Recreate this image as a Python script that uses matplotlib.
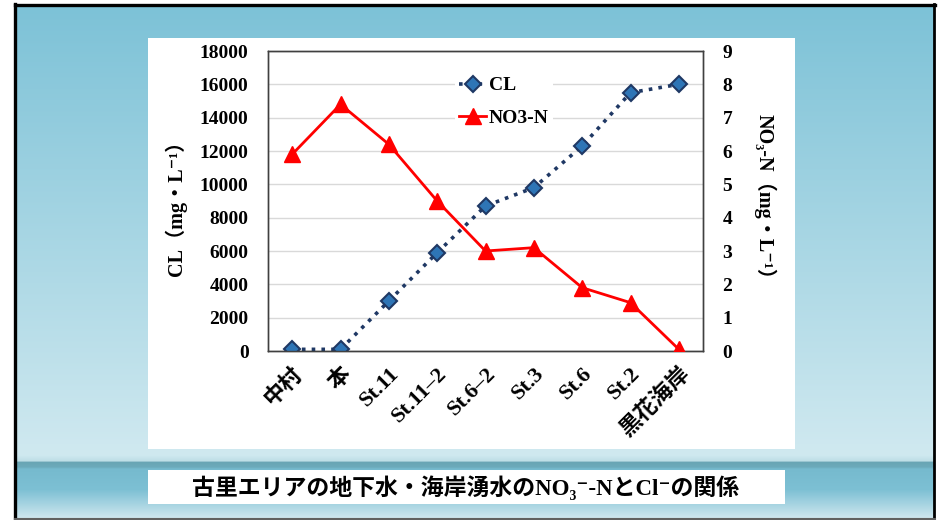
import numpy as np
import matplotlib
matplotlib.use("Agg")
import matplotlib.pyplot as plt
from matplotlib.patches import Rectangle

# ---------------- data ----------------
categories = ["中村", "本", "St.11", "St.11–2", "St.6–2", "St.3", "St.6", "St.2", "黒花海岸"]
cl_values = [100, 100, 3000, 5900, 8700, 9800, 12300, 15500, 16000]
no3_values = [5.9, 7.4, 6.2, 4.5, 3.0, 3.1, 1.9, 1.45, 0.05]
left_ticks = [0, 2000, 4000, 6000, 8000, 10000, 12000, 14000, 16000, 18000]
right_ticks = [0, 1, 2, 3, 4, 5, 6, 7, 8, 9]
series_names = ["CL", "NO3-N"]
left_label = "CL（mg・L⁻¹）"
right_label = "NO₃-N（mg・L⁻¹）"
caption = "古里エリアの地下水・海岸湧水のNO₃⁻-NとCl⁻の関係"

W, H = 941, 520
LATIN = ["Liberation Serif", "Noto Sans CJK JP", "DejaVu Sans"]

fig = plt.figure(figsize=(W / 100, H / 100), dpi=100)

# ---------------- background ----------------
bg = fig.add_axes([0, 0, 1, 1], zorder=-10)
bg.set_xlim(0, W)
bg.set_ylim(H, 0)
bg.axis("off")
ys = np.arange(H)
stops_y = [0, 4, 455, 461, 462, 467, 469, 490, 518, 520]
stops_c = np.array([
    (125, 194, 215), (125, 194, 215), (208, 233, 240), (190, 222, 230),
    (105, 165, 180), (108, 170, 186), (118, 186, 206), (125, 192, 212),
    (205, 230, 238), (205, 230, 238)]) / 255.0
grad = np.stack([np.interp(ys, stops_y, stops_c[:, i]) for i in range(3)], axis=-1)
img = np.repeat(grad[:, None, :], 2, axis=1)
bg.imshow(img, extent=(15, 935, 519, 4), aspect="auto", zorder=0)
bg.add_patch(Rectangle((0, 0), 15, H, facecolor="white", edgecolor="none", zorder=1))
bg.add_patch(Rectangle((0, 0), W, 4, facecolor="white", edgecolor="none", zorder=1))
bg.add_patch(Rectangle((935, 0), 6, H, facecolor="white", edgecolor="none", zorder=1))
bg.plot([15.5, 15.5], [4, 519], color="black", lw=2.4, zorder=2)
bg.plot([15, 935], [4.5, 4.5], color="black", lw=2.4, zorder=2)
bg.plot([934, 934], [4, 519], color="black", lw=2.0, zorder=2)
bg.plot([15, 935], [519, 519], color="#606060", lw=1.5, zorder=2)
bg.add_patch(Rectangle((148, 38), 795 - 148, 449 - 38, facecolor="white", edgecolor="none", zorder=3))
bg.add_patch(Rectangle((148, 470), 785 - 148, 504 - 470, facecolor="white", edgecolor="none", zorder=3))
bg.text(466, 488, caption, ha="center", va="center", fontsize=16.5, fontweight="bold",
        family=LATIN, color="black", zorder=4)

# ---------------- chart ----------------
L, R, T, B = 268, 703, 51, 351
ax = fig.add_axes([L / W, 1 - B / H, (R - L) / W, (B - T) / H])
ax2 = ax.twinx()
x = np.arange(len(categories))

ax.set_xlim(-0.5, len(categories) - 0.5)
ax.set_ylim(left_ticks[0], left_ticks[-1])
ax2.set_ylim(right_ticks[0], right_ticks[-1])
ax.set_yticks(left_ticks)
ax2.set_yticks(right_ticks)
ax.set_xticks(x)
ax.grid(axis="y", color="#d9d9d9", lw=1.0)
ax.set_axisbelow(True)

for a in (ax, ax2):
    for s in a.spines.values():
        s.set_color("#404040")
        s.set_linewidth(1.0)
    a.tick_params(length=0)

ax.set_yticklabels([str(v) for v in left_ticks], fontsize=14, fontweight="bold", family=LATIN)
ax2.set_yticklabels([str(v) for v in right_ticks], fontsize=14, fontweight="bold", family=LATIN)
ax.tick_params(axis="y", pad=14)
ax2.tick_params(axis="y", pad=14)
ax.set_xticklabels(categories, fontsize=16, fontweight="bold", family=LATIN,
                   rotation=45, ha="right", va="top", rotation_mode="anchor")
ax.tick_params(axis="x", pad=9)

cl_line, = ax.plot(x, cl_values, linestyle=(0, (1, 1.7)), color="#1f3864", lw=2.6,
                   marker="D", markersize=8.5, markerfacecolor="#2e75b6",
                   markeredgecolor="#1f3864", markeredgewidth=1.5, zorder=3)
no3_line, = ax2.plot(x, no3_values, color="#ff0000", lw=2.0, marker="^", markersize=12,
                     markerfacecolor="#ff0000", markeredgecolor="#ff0000", zorder=3)

leg = ax2.legend([cl_line, no3_line], series_names, loc="upper left",
                 bbox_to_anchor=(455 / W, 1 - 73 / H), bbox_transform=fig.transFigure,
                 frameon=True, fancybox=False, framealpha=1, edgecolor="none",
                 facecolor="white", prop={"family": LATIN, "weight": "bold", "size": 14},
                 handlelength=1.4, handletextpad=0.15, labelspacing=0.75,
                 borderpad=0.2, borderaxespad=0)

fig.text(176 / W, 1 - 203 / H, left_label, rotation=90, ha="center", va="center",
         fontsize=14.5, fontweight="bold", family=LATIN)
fig.text(765 / W, 1 - 202 / H, right_label, rotation=-90, ha="center", va="center",
         fontsize=14.5, fontweight="bold", family=LATIN)

fig.savefig("out.png", dpi=100)
